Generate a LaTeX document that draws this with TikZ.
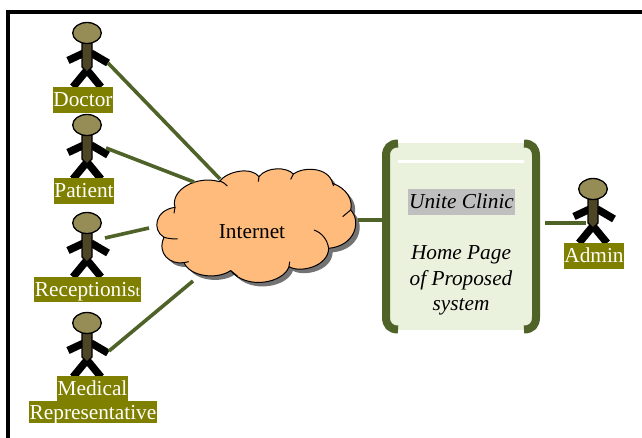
\documentclass[tikz,border=0pt]{standalone}
\usepackage{fontspec}
\setmainfont{Liberation Serif}
\definecolor{lineG}{HTML}{4F6228}
\definecolor{lblO}{HTML}{808000}
\definecolor{headC}{HTML}{968C55}
\definecolor{bodyC}{HTML}{4D4526}
\definecolor{cloudC}{HTML}{FFBB7C}
\definecolor{paneC}{HTML}{EAF1DD}
\tikzset{
  x=1pt,y=-1pt,
  txt/.style={font=\fontsize{21.3}{25}\selectfont,inner sep=0pt,text height=20pt,text depth=6pt,anchor=center},
  ittxt/.style={txt,font=\fontsize{21.3}{25}\selectfont\itshape},
  lbl/.style={txt,fill=lblO,text=white,text height=19.5pt,text depth=6pt},
  conn/.style={draw=lineG,line width=3.6pt},
  limb/.style={draw=black,line width=7.5pt},
  pics/actor/.style={code={
    \draw[limb] (-19,27.5)--(-3,20);
    \draw[limb] (4,20)--(21,30);
    \draw[limb] (0,37)--(-14,54);
    \draw[limb] (0,37)--(14,54);
    \draw[fill=bodyC,draw=black,line width=1.3pt] (-5,10)--(5,10)--(5,34)--(0,39)--(-5,34)--cycle;
    \draw[fill=headC,draw=black,line width=1.3pt] (0,0) ellipse [x radius=14.3,y radius=10.5];
  }}
}
\begin{document}
\begin{tikzpicture}
\useasboundingbox (0,0) rectangle (642,438);
\fill[white] (0,0) rectangle (642,438);
\draw[line width=4pt,line cap=butt] (8,442)--(8,12)--(645,12);
% actors
\pic at (87,33) {actor};
\pic at (87,125) {actor};
\pic at (87,223) {actor};
\pic at (87,323) {actor};
\pic at (593,189) {actor};
% labels
\node[lbl,minimum width=60pt] (doctor) at (83,100) {Doctor};
\node[lbl,minimum width=60pt] (patient) at (84,191) {Patient};
\node[lbl,minimum width=107pt] (recep) at (87.5,289.5) {Receptionis{\fontsize{16}{16}\selectfont t}};
\node[lbl,minimum width=71pt] (med1) at (92.5,388.5) {Medical};
\node[lbl,minimum width=128pt,text height=18.5pt,text depth=3.5pt] (med2) at (93,412) {Representative};
\node[lbl,minimum width=60pt] (admin) at (594,256) {Admin};
% cloud
\begin{scope}[shift={(140,150)},x=0.3333pt,y=-0.3333pt]
\def\cloudpath{(238,95) .. controls (262,62) and (335,50) .. (357,80)
  .. controls (380,50) and (440,50) .. (460,72)
  .. controls (490,50) and (565,50) .. (578,100)
  .. controls (620,115) and (640,150) .. (632,180)
  .. controls (665,215) and (645,288) .. (566,295)
  .. controls (565,350) and (480,370) .. (447,350)
  .. controls (430,400) and (320,420) .. (272,362)
  .. controls (230,390) and (150,380) .. (132,338)
  .. controls (90,345) and (50,310) .. (72,262)
  .. controls (35,240) and (45,180) .. (105,172)
  .. controls (90,120) and (170,75) .. (238,95) -- cycle}
\fill[black!55,shift={(12,12)}] \cloudpath;
\draw[fill=cloudC,draw=black,line width=1pt] \cloudpath;
\draw[line width=1pt] (238,92) .. controls (248,95) and (256,102) .. (262,108);
\draw[line width=1pt] (357,80)--(355,95);
\draw[line width=1pt] (460,72)--(452,88);
\draw[line width=1pt] (578,100)--(581,108);
\draw[line width=1pt] (632,180)--(608,200);
\draw[line width=1pt] (522,240) .. controls (545,248) and (562,268) .. (566,295);
\draw[line width=1pt] (447,350)--(449,335);
\draw[line width=1pt] (272,362)--(292,378);
\draw[line width=1pt] (132,338)--(146,335);
\draw[line width=1pt] (72,262) .. controls (85,266) and (100,267) .. (113,267);
\draw[line width=1pt] (105,172)--(102,190);
\end{scope}
\node[txt,text height=15pt,text depth=3pt] (inet) at (252,233) {Internet};
% pane
\fill[paneC] (390,143) rectangle (534,330);
\draw[white,line width=2.5pt] (398,161.5)--(524,161.5);
\draw[draw=lineG,line width=8pt] (398,143.5) .. controls (390,143.5) and (386,148) .. (386,156) -- (386,317) .. controls (386,325) and (390,329.5) .. (398,329.5);
\draw[draw=lineG,line width=8pt] (524,143.5) .. controls (532,143.5) and (536,148) .. (536,156) -- (536,317) .. controls (536,325) and (532,329.5) .. (524,329.5);
\node[ittxt,fill=black!25,minimum width=107pt] (clinic) at (461.5,202) {Unite Clinic};
\node[ittxt] (h1) at (461,253) {Home Page};
\node[ittxt] (h2) at (461,278) {of Proposed};
\node[ittxt] (h3) at (461,303) {system};
% connector ends
\coordinate (dA) at (108,63);
\coordinate (dB) at (220,179);
\coordinate (pA) at (106,148);
\coordinate (pB) at (194,182);
\coordinate (rA) at (105,238);
\coordinate (rB) at (149,228);
\coordinate (mA) at (109,351);
\coordinate (mB) at (193,281);
\coordinate (cA) at (358,220);
\coordinate (cB) at (382,220);
\coordinate (aA) at (545,223);
\coordinate (aB) at (586,223);
\draw[conn] (dA)--(dB);
\draw[conn] (pA)--(pB);
\draw[conn] (rA)--(rB);
\draw[conn] (mA)--(mB);
\draw[conn] (cA)--(cB);
\draw[conn] (aA)--(aB);
\end{tikzpicture}
\end{document}
